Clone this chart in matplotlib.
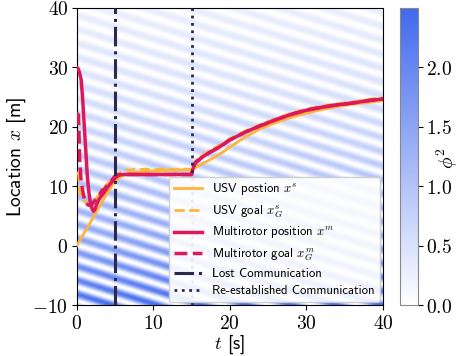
import numpy as np
import matplotlib
matplotlib.use("Agg")
import matplotlib.pyplot as plt
from matplotlib.colors import LinearSegmentedColormap
from matplotlib.ticker import FuncFormatter

plt.rcParams['mathtext.fontset'] = 'cm'
plt.rcParams['axes.unicode_minus'] = False

# ---- data ----
t_usv = [0, 0.5, 1.0, 1.5, 2.0, 2.5, 3.0, 3.5, 4.0, 4.5, 5.0, 5.5, 6.0, 6.5, 7, 8, 9, 10, 11, 12, 13, 14, 15,
         16, 17, 18, 19, 20, 22, 24, 26, 28, 30, 32, 34, 36, 38, 40]
x_usv = [0, 1.1, 2.2, 3.3, 4.4, 5.6, 6.7, 7.8, 8.9, 9.9, 10.8, 11.4, 11.8, 12.0, 12.2, 12.4, 12.5, 12.6, 12.6, 12.7, 12.7, 12.8, 12.8,
         13.5, 14.2, 14.9, 15.7, 16.6, 18.3, 19.7, 20.7, 21.6, 22.3, 22.9, 23.4, 23.8, 24.1, 24.4]

t_usv_goal = [0, 0.25, 0.4, 0.8, 1.4, 2.0, 2.5, 3.0, 3.3, 3.7, 4.0, 4.5, 5.0, 5.5, 6.0, 6.5, 7, 7.5, 8, 9, 10, 11, 12, 13, 14, 14.8,
              15.0, 15.3, 15.7, 16.5, 17.5, 18.5, 20, 22, 24, 26, 28, 30, 32, 34, 36, 38, 40]
x_usv_goal = [12.3, 12.2, 9.0, 7.8, 7.0, 7.1, 7.9, 8.7, 9.4, 9.8, 10.4, 11.0, 11.8, 12.2, 12.5, 12.8, 12.7, 12.9, 12.8, 12.9, 12.8, 12.9, 12.9, 12.8, 12.9, 12.9,
              12.3, 13.3, 14.5, 15.3, 16.1, 16.8, 18.0, 19.3, 20.4, 21.4, 22.3, 23.0, 23.5, 23.9, 24.2, 24.6, 24.9]

t_mr = [0, 0.2, 0.4, 0.6, 0.8, 1.0, 1.2, 1.4, 1.6, 1.8, 2.0, 2.2, 2.4, 2.7, 3.0, 3.5, 4.0, 4.5, 5.0, 5.5, 6, 8, 10, 12, 14, 15.0,
        15.2, 15.5, 16.5, 17.5, 18.5, 20, 22, 24, 26, 28, 30, 32, 34, 36, 38, 40]
x_mr = [30, 29.8, 29.0, 27.9, 24.5, 20.1, 16.0, 11.7, 9.0, 7.2, 6.3, 5.8, 6.2, 7.3, 8.0, 8.8, 9.8, 10.6, 11.4, 11.9, 12.0, 12.0, 12.0, 12.0, 12.0, 12.0,
        13.0, 14.0, 15.0, 15.8, 16.5, 17.8, 19.1, 20.2, 21.2, 22.1, 22.8, 23.3, 23.7, 24.0, 24.4, 24.7]

t_mr_goal = [0, 0.25, 0.4, 0.55, 0.7, 0.9, 1.2, 1.6, 2.0, 2.5, 2.8, 3.0, 3.3, 3.7, 4.0, 4.5, 5.0, 5.5, 6, 8, 10, 12, 14, 15.0,
             15.2, 15.5, 16.5, 17.5, 18.5, 20, 22, 24, 26, 28, 30, 32, 34, 36, 38, 40]
x_mr_goal = [22.3, 22.0, 14.5, 11.5, 10.0, 8.5, 7.2, 6.8, 7.0, 7.8, 8.4, 8.6, 9.3, 9.6, 10.3, 10.9, 11.7, 12.0, 12.0, 12.0, 12.0, 12.0, 12.0, 12.0,
             13.0, 14.0, 15.0, 15.8, 16.5, 17.8, 19.1, 20.2, 21.2, 22.1, 22.8, 23.3, 23.7, 24.0, 24.4, 24.7]

t_lost = 5
t_reest = 15

# wave field parameters (phi^2 background)
phi2_max = 2.45
decay_len = 23.0
wave_k = 1.34
wave_c = 0.4

labels = [r'USV postion $x^s$', r'USV goal $x^s_G$', r'Multirotor position $x^m$',
          r'Multirotor goal $x^m_G$', 'Lost Communication', 'Re-established Communication']

# ---- figure ----
fig = plt.figure(figsize=(4.7, 3.56), dpi=100)
ax = fig.add_axes([0.163, 0.142, 0.652, 0.836])
cax = fig.add_axes([0.851, 0.143, 0.038, 0.835])

cmap = LinearSegmentedColormap.from_list('wb', ['#ffffff', '#4169ee'])
tt = np.linspace(0, 40, 600)
xx = np.linspace(-10, 40, 600)
T, X = np.meshgrid(tt, xx)
F = phi2_max * np.exp(-(X + 10) / decay_len) * np.sin(wave_k * (X + wave_c * T)) ** 2
im = ax.imshow(F, extent=[0, 40, -10, 40], origin='lower', aspect='auto', cmap=cmap,
               vmin=0, vmax=2.5, interpolation='bilinear', zorder=0)

orange = '#ffb43c'
crim = '#dc1a5a'
navy = '#2b2a4e'

ax.plot(t_usv, x_usv, color=orange, lw=2.0, label=labels[0], zorder=3)
ax.plot(t_usv_goal, x_usv_goal, color=orange, lw=2.0, ls='--', label=labels[1], zorder=3)
ax.plot(t_mr, x_mr, color=crim, lw=2.5, label=labels[2], zorder=4)
ax.plot(t_mr_goal, x_mr_goal, color=crim, lw=2.5, ls='--', label=labels[3], zorder=4)
ax.axvline(t_lost, color=navy, lw=2.2, ls='-.', label=labels[4], zorder=5)
ax.axvline(t_reest, color=navy, lw=2.0, ls=':', label=labels[5], zorder=5)

fmt_int = FuncFormatter(lambda v, p: r'$%d$' % int(round(v)))
fmt_1 = FuncFormatter(lambda v, p: r'$%.1f$' % v)

ax.set_xlim(0, 40)
ax.set_ylim(-10, 40)
ax.set_xticks([0, 10, 20, 30, 40])
ax.set_yticks([-10, 0, 10, 20, 30, 40])
ax.xaxis.set_major_formatter(fmt_int)
ax.yaxis.set_major_formatter(fmt_int)
ax.tick_params(labelsize=14, length=3.5, pad=2.5)
ax.set_xlabel(r'$t$ [s]', fontsize=13.5, family='cmss10', labelpad=0)
ax.set_ylabel(r'Location $x$ [m]', fontsize=14, family='cmss10', labelpad=3)

leg = ax.legend(loc='lower right', prop={'family': 'cmss10', 'size': 9.2}, framealpha=0.9,
                borderaxespad=0.25, handlelength=2.2, labelspacing=0.4, borderpad=0.4)

cb = fig.colorbar(im, cax=cax)
cb.set_ticks([0, 0.5, 1.0, 1.5, 2.0])
cb.ax.yaxis.set_major_formatter(fmt_1)
cb.ax.tick_params(labelsize=14, length=3.5, pad=2.5)
cb.outline.set_edgecolor('#888888')
fig.text(0.951, 0.555, r'$\phi^2$', rotation=90, ha='center', va='center', fontsize=14)

fig.savefig('out.png', dpi=100)
